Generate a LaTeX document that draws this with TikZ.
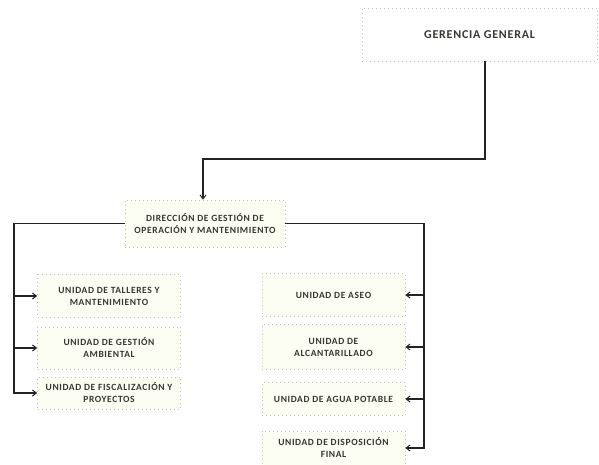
\documentclass[tikz,border=0pt]{standalone}
\usepackage{fontspec}
\setmainfont{Carlito}[LetterSpace=6.5]
\usetikzlibrary{arrows.meta,positioning}
\definecolor{boxfill}{RGB}{252,253,243}
\definecolor{boxline}{RGB}{195,195,190}
\definecolor{ink}{RGB}{35,35,35}
\definecolor{txt}{RGB}{55,55,50}
\tikzset{
  unitbox/.style={draw=boxline, dash pattern=on 1pt off 3pt, line width=0.6pt,
    fill=boxfill, minimum width=#1, inner sep=0pt, align=center,
    font=\fontsize{9.5}{12}\selectfont\bfseries, text=txt},
  unitbox/.default=143pt,
  conn/.style={draw=ink, line width=1.2pt},
  arr/.style={conn, -{Straight Barb[length=4pt,width=6pt,line width=1pt]}}
}
\begin{document}
\begin{tikzpicture}[x=1pt,y=-1pt]
\useasboundingbox (0,0) rectangle (599,465);
% Top box
\node[unitbox=235pt, minimum height=53pt, fill=white, font=\fontsize{12}{13}\selectfont\bfseries] (ger) at (479.5,34.5) {GERENCIA GENERAL};
% Direction box
\node[unitbox=160pt, minimum height=47pt] (dir) at (205,223.5) {DIRECCIÓN DE GESTIÓN DE\\OPERACIÓN Y MANTENIMIENTO};
% Left units
\node[unitbox, minimum height=43pt] (tal) at (109,296) {UNIDAD DE TALLERES Y\\MANTENIMIENTO};
\node[unitbox, minimum height=42pt] (amb) at (109,348) {UNIDAD DE GESTIÓN\\AMBIENTAL};
\node[unitbox, minimum height=32pt] (fis) at (109,393) {UNIDAD DE FISCALIZACIÓN Y\\PROYECTOS};
% Right units
\node[unitbox, minimum height=43pt] (ase) at (333.5,295) {UNIDAD DE ASEO};
\node[unitbox, minimum height=45pt] (alc) at (333.5,347) {UNIDAD DE\\ALCANTARILLADO};
\node[unitbox, minimum height=33pt] (agu) at (333.5,399) {UNIDAD DE AGUA POTABLE};
\node[unitbox, minimum height=34pt] (dis) at (333.5,448) {UNIDAD DE DISPOSICIÓN\\FINAL};
% Coordinates for bends
\coordinate (gdown) at (485,159);
\coordinate (gleft) at (203,159);
\coordinate (ltop) at (14,223.5);
\coordinate (rtop) at (424,223.5);
% Top connector
\draw[arr] (ger.south -| gdown) -- (gdown) -- (gleft) -- (gleft |- dir.north);
% Left connectors
\draw[arr] (dir.west) -- (ltop) -- (ltop |- fis.west) -- (fis.west);
\draw[arr] (ltop |- tal.west) -- (tal.west);
\draw[arr] (ltop |- amb.west) -- (amb.west);
% Right connectors
\draw[arr] (dir.east) -- (rtop) -- (rtop |- dis.east) -- (dis.east);
\draw[arr] (rtop |- ase.east) -- (ase.east);
\draw[arr] (rtop |- alc.east) -- (alc.east);
\draw[arr] (rtop |- agu.east) -- (agu.east);
\end{tikzpicture}
\end{document}
